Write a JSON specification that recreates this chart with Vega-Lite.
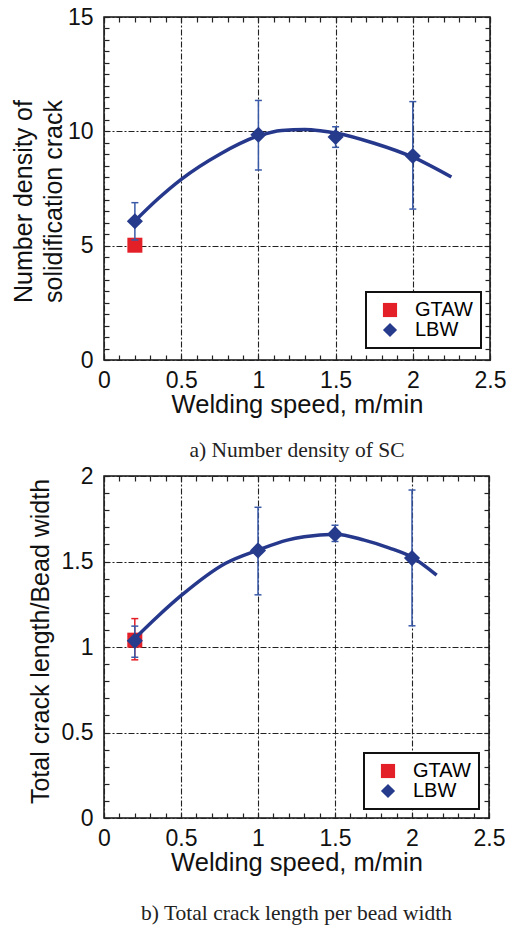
{
 "$schema":"https://vega.github.io/schema/vega-lite/v6.json",
 "padding":{"left":10,"top":5,"right":4,"bottom":4},
 "background":"white",
 "columns":1,
 "align":"none",
 "config":{
  "view":{"stroke":"#111","strokeWidth":1.5},
  "font":"Liberation Sans",
  "axis":{"labelFont":"Liberation Sans","labelFontSize":23,"labelColor":"#111","titleFont":"Liberation Sans","titleFontSize":25,"titleFontWeight":"normal","titleColor":"#111","tickColor":"#222","tickSize":-5,"tickWidth":1.2,"tickCount":100,"domain":false,"labelFlush":false,"labelOverlap":false,"gridColor":"#222","gridDash":[6,2,2,2],"gridWidth":1.1},
  "title":{"font":"Liberation Serif","fontSize":21.5,"fontWeight":"normal","color":"#222","orient":"bottom","anchor":"middle"},
  "legend":{"orient":"none","title":null,"fillColor":"white","strokeColor":"#111","strokeWidth":2,"padding":8,"labelFont":"Liberation Sans","labelFontSize":20,"symbolSize":200,"symbolStrokeWidth":0,"rowPadding":0,"labelOffset":15,"symbolOffset":6,
    "encode":{"labels":{"update":{"fill":{"signal":"datum.value === 'GTAW' ? '#e32028' : '#263b8c'"}}}}}
 },
 "datasets":{
  "ptsA":[
   {"method":"GTAW","x":0.2,"y":5.02},
   {"method":"LBW","x":0.2,"y":6.07,"lo":5.25,"hi":6.88},
   {"method":"LBW","x":1.0,"y":9.85,"lo":8.31,"hi":11.35},
   {"method":"LBW","x":1.5,"y":9.75,"lo":9.3,"hi":10.2},
   {"method":"LBW","x":2.0,"y":8.92,"lo":6.6,"hi":11.3}
  ],
  "curveA":[
   {"x":0.2,"y":6.08},{"x":0.35,"y":7.05},{"x":0.5,"y":7.9},{"x":0.75,"y":9.0},{"x":1.0,"y":9.8},{"x":1.15,"y":10.04},{"x":1.3,"y":10.08},{"x":1.4,"y":10.03},{"x":1.5,"y":9.93},{"x":1.75,"y":9.48},{"x":2.0,"y":8.87},{"x":2.25,"y":8.0}
  ],
  "ptsB":[
   {"method":"GTAW","x":0.2,"y":1.04,"lo":0.925,"hi":1.166},
   {"method":"LBW","x":0.2,"y":1.036,"lo":0.94,"hi":1.122},
   {"method":"LBW","x":1.0,"y":1.565,"lo":1.305,"hi":1.817},
   {"method":"LBW","x":1.5,"y":1.66,"lo":1.617,"hi":1.712},
   {"method":"LBW","x":2.0,"y":1.52,"lo":1.124,"hi":1.918}
  ],
  "curveB":[
   {"x":0.2,"y":1.05},{"x":0.35,"y":1.18},{"x":0.5,"y":1.3},{"x":0.79,"y":1.49},{"x":1.0,"y":1.567},{"x":1.19,"y":1.625},{"x":1.3,"y":1.645},{"x":1.5,"y":1.66},{"x":1.69,"y":1.625},{"x":1.85,"y":1.58},{"x":2.0,"y":1.525},{"x":2.16,"y":1.42}
  ]
 },
 "spacing":2,
 "resolve":{"scale":{"color":"independent","shape":"independent"},"legend":{"color":"independent","shape":"independent"}},
 "concat":[
  {
   "width":386,"height":343,
   "title":{"text":"a) Number density of SC","offset":22},
   "layer":[
    {"layer":[
     {"data":{"name":"ptsA"},"transform":[{"filter":"datum.method=='GTAW'"}],
      "mark":{"type":"point","filled":true,"opacity":1,"strokeWidth":0,"size":225},
      "encoding":{
       "x":{"field":"x","type":"quantitative","scale":{"domain":[0,2.5],"nice":false},
            "axis":{"title":"Welding speed, m/min","titleFontSize":25.5,"values":[0,0.1,0.2,0.3,0.4,0.5,0.6,0.7,0.8,0.9,1,1.1,1.2,1.3,1.4,1.5,1.6,1.7,1.8,1.9,2,2.1,2.2,2.3,2.4,2.5],
                    "labelExpr":"round(datum.value*10)%5==0 ? format(datum.value,'~g') : ''","grid":true,
                    "gridOpacity":{"condition":{"test":"round(datum.value*10)%5==0","value":1},"value":0},"labelPadding":14,"titlePadding":0}},
       "y":{"field":"y","type":"quantitative","scale":{"domain":[0,15],"nice":false},
            "axis":{"title":["Number density of","solidification crack"],"titleLineHeight":30,"titleY":184,
                    "values":[0,0.5,1,1.5,2,2.5,3,3.5,4,4.5,5,5.5,6,6.5,7,7.5,8,8.5,9,9.5,10,10.5,11,11.5,12,12.5,13,13.5,14,14.5,15],
                    "labelExpr":"datum.value%5==0 ? format(datum.value,'~g') : ''","grid":true,
                    "gridOpacity":{"condition":{"test":"datum.value%5==0","value":1},"value":0},"labelPadding":16,"titlePadding":1}},
       "color":{"field":"method","type":"nominal","scale":{"domain":["GTAW","LBW"],"range":["#e32028","#263b8c"]},"legend":{"legendX":262,"legendY":275}},
       "shape":{"field":"method","type":"nominal","scale":{"domain":["GTAW","LBW"],"range":["square","diamond"]},"legend":{"legendX":262,"legendY":275}}
      }},
     {"data":{"name":"ptsA"},"transform":[{"filter":"datum.method=='LBW'"}],
      "mark":{"type":"rule","color":"#3a5aa8","strokeWidth":1.5},
      "encoding":{"x":{"field":"x","type":"quantitative"},"y":{"field":"lo","type":"quantitative"},"y2":{"field":"hi"}}},
     {"data":{"name":"ptsA"},"transform":[{"filter":"datum.method=='LBW'"}],
      "mark":{"type":"tick","orient":"horizontal","color":"#3a5aa8","size":7,"thickness":1.5,"opacity":1},
      "encoding":{"x":{"field":"x","type":"quantitative"},"y":{"field":"hi","type":"quantitative"}}},
     {"data":{"name":"ptsA"},"transform":[{"filter":"datum.method=='LBW'"}],
      "mark":{"type":"tick","orient":"horizontal","color":"#3a5aa8","size":7,"thickness":1.5,"opacity":1},
      "encoding":{"x":{"field":"x","type":"quantitative"},"y":{"field":"lo","type":"quantitative"}}},
     {"data":{"name":"curveA"},
      "mark":{"type":"line","interpolate":"monotone","color":"#26388c","strokeWidth":3.5},
      "encoding":{"x":{"field":"x","type":"quantitative"},"y":{"field":"y","type":"quantitative"}}},
     {"data":{"name":"ptsA"},"transform":[{"filter":"datum.method=='LBW'"}],
      "mark":{"type":"point","filled":true,"opacity":1,"strokeWidth":0,"size":260},
      "encoding":{
       "x":{"field":"x","type":"quantitative"},
       "y":{"field":"y","type":"quantitative"},
       "color":{"field":"method","type":"nominal"},
       "shape":{"field":"method","type":"nominal"}
      }}
    ]},
    {"data":{"name":"curveA"},"mark":{"type":"point","opacity":0},
     "encoding":{
      "x":{"field":"x","type":"quantitative","axis":{"orient":"top","title":null,"labels":false,"grid":false,"values":[0,0.1,0.2,0.3,0.4,0.5,0.6,0.7,0.8,0.9,1,1.1,1.2,1.3,1.4,1.5,1.6,1.7,1.8,1.9,2,2.1,2.2,2.3,2.4,2.5]}},
      "y":{"field":"y","type":"quantitative","axis":{"orient":"right","title":null,"labels":false,"grid":false,"values":[0,0.5,1,1.5,2,2.5,3,3.5,4,4.5,5,5.5,6,6.5,7,7.5,8,8.5,9,9.5,10,10.5,11,11.5,12,12.5,13,13.5,14,14.5,15]}}
     }}
   ],
   "resolve":{"axis":{"x":"independent","y":"independent"}}
  },
  {
   "width":385,"height":342,
   "title":{"text":"b) Total crack length per bead width","offset":27},
   "layer":[
    {"layer":[
     {"data":{"name":"ptsB"},"transform":[{"filter":"datum.method=='GTAW'"}],
      "mark":{"type":"point","filled":true,"opacity":1,"strokeWidth":0,"size":225},
      "encoding":{
       "x":{"field":"x","type":"quantitative","scale":{"domain":[0,2.5],"nice":false},
            "axis":{"title":"Welding speed, m/min","titleFontSize":25.5,"values":[0,0.1,0.2,0.3,0.4,0.5,0.6,0.7,0.8,0.9,1,1.1,1.2,1.3,1.4,1.5,1.6,1.7,1.8,1.9,2,2.1,2.2,2.3,2.4,2.5],
                    "labelExpr":"round(datum.value*10)%5==0 ? format(datum.value,'~g') : ''","grid":true,
                    "gridOpacity":{"condition":{"test":"round(datum.value*10)%5==0","value":1},"value":0},"labelPadding":14,"titlePadding":0}},
       "y":{"field":"y","type":"quantitative","scale":{"domain":[0,2],"nice":false},
            "axis":{"title":["","Total crack length/Bead width"],"titleLineHeight":5,"titleY":165,
                    "values":[0,0.1,0.2,0.3,0.4,0.5,0.6,0.7,0.8,0.9,1,1.1,1.2,1.3,1.4,1.5,1.6,1.7,1.8,1.9,2],
                    "labelExpr":"round(datum.value*10)%5==0 ? format(datum.value,'~g') : ''","grid":true,
                    "gridOpacity":{"condition":{"test":"round(datum.value*10)%5==0","value":1},"value":0},"labelPadding":16,"titlePadding":8}},
       "color":{"field":"method","type":"nominal","scale":{"domain":["GTAW","LBW"],"range":["#e32028","#263b8c"]},"legend":{"legendX":260,"legendY":277}},
       "shape":{"field":"method","type":"nominal","scale":{"domain":["GTAW","LBW"],"range":["square","diamond"]},"legend":{"legendX":260,"legendY":277}}
      }},
     {"data":{"name":"ptsB"},
      "mark":{"type":"rule","strokeWidth":1.5},
      "encoding":{"x":{"field":"x","type":"quantitative"},"y":{"field":"lo","type":"quantitative"},"y2":{"field":"hi"},
        "color":{"condition":{"test":"datum.method=='GTAW'","value":"#e32028"},"value":"#3a5aa8"}}},
     {"data":{"name":"ptsB"},
      "mark":{"type":"tick","orient":"horizontal","size":7,"thickness":1.5,"opacity":1},
      "encoding":{"x":{"field":"x","type":"quantitative"},"y":{"field":"hi","type":"quantitative"},
        "color":{"condition":{"test":"datum.method=='GTAW'","value":"#e32028"},"value":"#3a5aa8"}}},
     {"data":{"name":"ptsB"},
      "mark":{"type":"tick","orient":"horizontal","size":7,"thickness":1.5,"opacity":1},
      "encoding":{"x":{"field":"x","type":"quantitative"},"y":{"field":"lo","type":"quantitative"},
        "color":{"condition":{"test":"datum.method=='GTAW'","value":"#e32028"},"value":"#3a5aa8"}}},
     {"data":{"name":"curveB"},
      "mark":{"type":"line","interpolate":"monotone","color":"#26388c","strokeWidth":3.5},
      "encoding":{"x":{"field":"x","type":"quantitative"},"y":{"field":"y","type":"quantitative"}}},
     {"data":{"name":"ptsB"},"transform":[{"filter":"datum.method=='LBW'"}],
      "mark":{"type":"point","filled":true,"opacity":1,"strokeWidth":0,"size":260},
      "encoding":{
       "x":{"field":"x","type":"quantitative"},
       "y":{"field":"y","type":"quantitative"},
       "color":{"field":"method","type":"nominal"},
       "shape":{"field":"method","type":"nominal"}
      }}
    ]},
    {"data":{"name":"curveB"},"mark":{"type":"point","opacity":0},
     "encoding":{
      "x":{"field":"x","type":"quantitative","axis":{"orient":"top","title":null,"labels":false,"grid":false,"values":[0,0.1,0.2,0.3,0.4,0.5,0.6,0.7,0.8,0.9,1,1.1,1.2,1.3,1.4,1.5,1.6,1.7,1.8,1.9,2,2.1,2.2,2.3,2.4,2.5]}},
      "y":{"field":"y","type":"quantitative","axis":{"orient":"right","title":null,"labels":false,"grid":false,"values":[0,0.1,0.2,0.3,0.4,0.5,0.6,0.7,0.8,0.9,1,1.1,1.2,1.3,1.4,1.5,1.6,1.7,1.8,1.9,2]}}
     }}
   ],
   "resolve":{"axis":{"x":"independent","y":"independent"}}
  }
 ]
}
